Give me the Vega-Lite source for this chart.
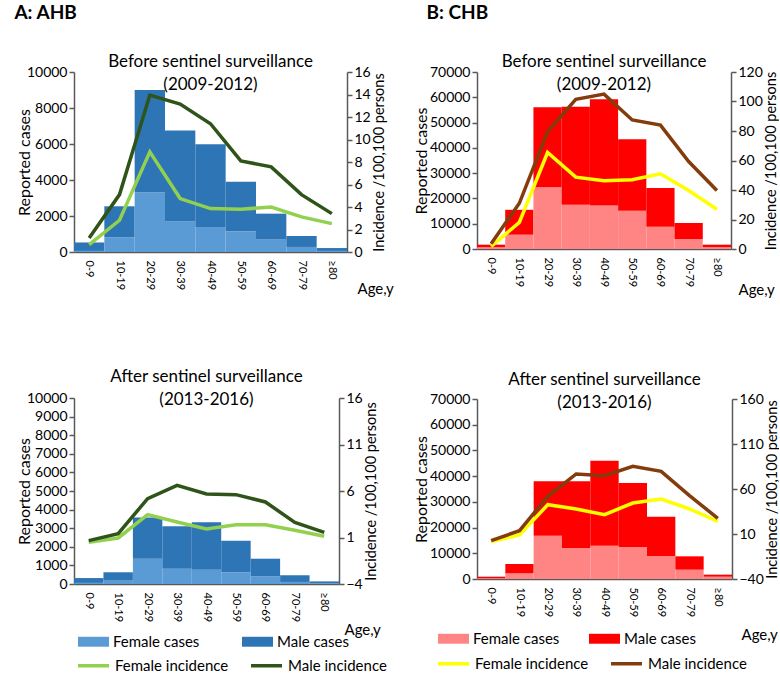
{
  "$schema": "https://vega.github.io/schema/vega-lite/v6.json",
  "padding": {"left": 14, "top": 4, "right": 0, "bottom": 0},
  "config": {
    "font": "Lato",
    "view": {"stroke": null},
    "title": {"font": "Lato", "fontSize": 17, "fontWeight": "normal", "color": "#000000", "lineHeight": 23},
    "axis": {"grid": false, "domainColor": "#595959", "tickColor": "#595959", "labelColor": "#000000", "titleColor": "#000000", "labelFont": "Lato", "titleFont": "Lato", "titleFontWeight": "normal", "labelFontSize": 14, "titleFontSize": 16, "domainWidth": 1.5, "tickWidth": 1.5, "tickSize": 5, "titlePadding": 4},
    "axisY": {"format": "d"},
    "axisX": {"labelAngle": 90, "labelFontSize": 11, "ticks": false, "labelPadding": 8, "titleAngle": 0, "titleAlign": "left", "titleBaseline": "alphabetic", "titleFontSize": 15},
    "axisRight": {"titleAngle": 270, "titleBaseline": "top", "titlePadding": 2, "titleFontSize": 14.5},
    "legend": {"labelFont": "Lato", "labelFontSize": 15, "labelColor": "#000000", "padding": 0}
  },
  "data": {"values": [
    {"p": "A1", "age": "0-9", "bar": "Female cases", "cases": 60, "line": "Female incidence", "inc": 0.65},
    {"p": "A1", "age": "0-9", "bar": "Male cases", "cases": 470, "line": "Male incidence", "inc": 1.25},
    {"p": "A1", "age": "10-19", "bar": "Female cases", "cases": 820, "line": "Female incidence", "inc": 2.82},
    {"p": "A1", "age": "10-19", "bar": "Male cases", "cases": 1720, "line": "Male incidence", "inc": 5.1},
    {"p": "A1", "age": "20-29", "bar": "Female cases", "cases": 3320, "line": "Female incidence", "inc": 8.9},
    {"p": "A1", "age": "20-29", "bar": "Male cases", "cases": 5680, "line": "Male incidence", "inc": 13.95},
    {"p": "A1", "age": "30-39", "bar": "Female cases", "cases": 1710, "line": "Female incidence", "inc": 4.75},
    {"p": "A1", "age": "30-39", "bar": "Male cases", "cases": 5040, "line": "Male incidence", "inc": 13.15},
    {"p": "A1", "age": "40-49", "bar": "Female cases", "cases": 1390, "line": "Female incidence", "inc": 3.86},
    {"p": "A1", "age": "40-49", "bar": "Male cases", "cases": 4590, "line": "Male incidence", "inc": 11.4},
    {"p": "A1", "age": "50-59", "bar": "Female cases", "cases": 1150, "line": "Female incidence", "inc": 3.8},
    {"p": "A1", "age": "50-59", "bar": "Male cases", "cases": 2750, "line": "Male incidence", "inc": 8.1},
    {"p": "A1", "age": "60-69", "bar": "Female cases", "cases": 690, "line": "Female incidence", "inc": 4.0},
    {"p": "A1", "age": "60-69", "bar": "Male cases", "cases": 1440, "line": "Male incidence", "inc": 7.57},
    {"p": "A1", "age": "70-79", "bar": "Female cases", "cases": 280, "line": "Female incidence", "inc": 3.12},
    {"p": "A1", "age": "70-79", "bar": "Male cases", "cases": 610, "line": "Male incidence", "inc": 5.1},
    {"p": "A1", "age": "≥80", "bar": "Female cases", "cases": 60, "line": "Female incidence", "inc": 2.52},
    {"p": "A1", "age": "≥80", "bar": "Male cases", "cases": 160, "line": "Male incidence", "inc": 3.41},

    {"p": "B1", "age": "0-9", "bar": "Female cases", "cases": 700, "line": "Female incidence", "inc": 1.8},
    {"p": "B1", "age": "0-9", "bar": "Male cases", "cases": 1010, "line": "Male incidence", "inc": 3.6},
    {"p": "B1", "age": "10-19", "bar": "Female cases", "cases": 5660, "line": "Female incidence", "inc": 18},
    {"p": "B1", "age": "10-19", "bar": "Male cases", "cases": 9840, "line": "Male incidence", "inc": 31},
    {"p": "B1", "age": "20-29", "bar": "Female cases", "cases": 24470, "line": "Female incidence", "inc": 65.4},
    {"p": "B1", "age": "20-29", "bar": "Male cases", "cases": 31580, "line": "Male incidence", "inc": 79.6},
    {"p": "B1", "age": "30-39", "bar": "Female cases", "cases": 17500, "line": "Female incidence", "inc": 48.7},
    {"p": "B1", "age": "30-39", "bar": "Male cases", "cases": 38800, "line": "Male incidence", "inc": 101.5},
    {"p": "B1", "age": "40-49", "bar": "Female cases", "cases": 17240, "line": "Female incidence", "inc": 46.2},
    {"p": "B1", "age": "40-49", "bar": "Male cases", "cases": 41960, "line": "Male incidence", "inc": 105},
    {"p": "B1", "age": "50-59", "bar": "Female cases", "cases": 15130, "line": "Female incidence", "inc": 46.9},
    {"p": "B1", "age": "50-59", "bar": "Male cases", "cases": 28270, "line": "Male incidence", "inc": 87.5},
    {"p": "B1", "age": "60-69", "bar": "Female cases", "cases": 8800, "line": "Female incidence", "inc": 51},
    {"p": "B1", "age": "60-69", "bar": "Male cases", "cases": 15280, "line": "Male incidence", "inc": 84},
    {"p": "B1", "age": "70-79", "bar": "Female cases", "cases": 3950, "line": "Female incidence", "inc": 39.7},
    {"p": "B1", "age": "70-79", "bar": "Male cases", "cases": 6310, "line": "Male incidence", "inc": 59.3},
    {"p": "B1", "age": "≥80", "bar": "Female cases", "cases": 700, "line": "Female incidence", "inc": 27},
    {"p": "B1", "age": "≥80", "bar": "Male cases", "cases": 1010, "line": "Male incidence", "inc": 39.7},

    {"p": "A2", "age": "0-9", "bar": "Female cases", "cases": 60, "line": "Female incidence", "inc": 0.48},
    {"p": "A2", "age": "0-9", "bar": "Male cases", "cases": 260, "line": "Male incidence", "inc": 0.66},
    {"p": "A2", "age": "10-19", "bar": "Female cases", "cases": 180, "line": "Female incidence", "inc": 0.95},
    {"p": "A2", "age": "10-19", "bar": "Male cases", "cases": 450, "line": "Male incidence", "inc": 1.41},
    {"p": "A2", "age": "20-29", "bar": "Female cases", "cases": 1360, "line": "Female incidence", "inc": 3.46},
    {"p": "A2", "age": "20-29", "bar": "Male cases", "cases": 2220, "line": "Male incidence", "inc": 5.18},
    {"p": "A2", "age": "30-39", "bar": "Female cases", "cases": 820, "line": "Female incidence", "inc": 2.67},
    {"p": "A2", "age": "30-39", "bar": "Male cases", "cases": 2280, "line": "Male incidence", "inc": 6.61},
    {"p": "A2", "age": "40-49", "bar": "Female cases", "cases": 770, "line": "Female incidence", "inc": 1.91},
    {"p": "A2", "age": "40-49", "bar": "Male cases", "cases": 2550, "line": "Male incidence", "inc": 5.68},
    {"p": "A2", "age": "50-59", "bar": "Female cases", "cases": 630, "line": "Female incidence", "inc": 2.38},
    {"p": "A2", "age": "50-59", "bar": "Male cases", "cases": 1700, "line": "Male incidence", "inc": 5.61},
    {"p": "A2", "age": "60-69", "bar": "Female cases", "cases": 410, "line": "Female incidence", "inc": 2.38},
    {"p": "A2", "age": "60-69", "bar": "Male cases", "cases": 950, "line": "Male incidence", "inc": 4.82},
    {"p": "A2", "age": "70-79", "bar": "Female cases", "cases": 110, "line": "Female incidence", "inc": 1.77},
    {"p": "A2", "age": "70-79", "bar": "Male cases", "cases": 360, "line": "Male incidence", "inc": 2.63},
    {"p": "A2", "age": "≥80", "bar": "Female cases", "cases": 40, "line": "Female incidence", "inc": 1.13},
    {"p": "A2", "age": "≥80", "bar": "Male cases", "cases": 100, "line": "Male incidence", "inc": 1.56},

    {"p": "B2", "age": "0-9", "bar": "Female cases", "cases": 300, "line": "Female incidence", "inc": 1.5},
    {"p": "B2", "age": "0-9", "bar": "Male cases", "cases": 600, "line": "Male incidence", "inc": 2.6},
    {"p": "B2", "age": "10-19", "bar": "Female cases", "cases": 2200, "line": "Female incidence", "inc": 8.9},
    {"p": "B2", "age": "10-19", "bar": "Male cases", "cases": 3630, "line": "Male incidence", "inc": 13.7},
    {"p": "B2", "age": "20-29", "bar": "Female cases", "cases": 16850, "line": "Female incidence", "inc": 42.6},
    {"p": "B2", "age": "20-29", "bar": "Male cases", "cases": 21130, "line": "Male incidence", "inc": 51.9},
    {"p": "B2", "age": "30-39", "bar": "Female cases", "cases": 12060, "line": "Female incidence", "inc": 37.8},
    {"p": "B2", "age": "30-39", "bar": "Male cases", "cases": 25920, "line": "Male incidence", "inc": 76.7},
    {"p": "B2", "age": "40-49", "bar": "Female cases", "cases": 12960, "line": "Female incidence", "inc": 31.5},
    {"p": "B2", "age": "40-49", "bar": "Male cases", "cases": 33060, "line": "Male incidence", "inc": 74.8},
    {"p": "B2", "age": "50-59", "bar": "Female cases", "cases": 12310, "line": "Female incidence", "inc": 44.4},
    {"p": "B2", "age": "50-59", "bar": "Male cases", "cases": 25020, "line": "Male incidence", "inc": 85.2},
    {"p": "B2", "age": "60-69", "bar": "Female cases", "cases": 8815, "line": "Female incidence", "inc": 48.9},
    {"p": "B2", "age": "60-69", "bar": "Male cases", "cases": 15425, "line": "Male incidence", "inc": 79.6},
    {"p": "B2", "age": "70-79", "bar": "Female cases", "cases": 3630, "line": "Female incidence", "inc": 37.8},
    {"p": "B2", "age": "70-79", "bar": "Male cases", "cases": 5185, "line": "Male incidence", "inc": 52.6},
    {"p": "B2", "age": "≥80", "bar": "Female cases", "cases": 900, "line": "Female incidence", "inc": 24.1},
    {"p": "B2", "age": "≥80", "bar": "Male cases", "cases": 790, "line": "Male incidence", "inc": 27.4}
  ]},
  "spacing": 19,
  "resolve": {"scale": {"fill": "independent", "stroke": "independent"}, "legend": {"fill": "independent", "stroke": "independent"}},
  "hconcat": [
    {
      "title": {"text": "A: AHB", "anchor": "start", "fontSize": 19, "fontWeight": "bold", "offset": 30, "dx": -2},
      "spacing": 72,
      "resolve": {"scale": {"fill": "independent", "stroke": "independent"}, "legend": {"fill": "independent", "stroke": "independent"}},
      "vconcat": [
        {
          "width": 273, "height": 180,
          "title": {"text": ["Before  sentinel surveillance", "(2009-2012)"], "offset": -29},
          "transform": [{"filter": "datum.p === 'A1'"}],
          "encoding": {"x": {"field": "age", "type": "nominal", "sort": ["0-9", "10-19", "20-29", "30-39", "40-49", "50-59", "60-69", "70-79", "≥80"], "scale": {"paddingInner": 0, "paddingOuter": 0}, "axis": {"title": "Age,y", "titleX": 283, "titleY": 41}}},
          "layer": [
            {"mark": {"type": "bar"}, "encoding": {
              "y": {"field": "cases", "type": "quantitative", "stack": "zero", "scale": {"domain": [0, 10000]}, "axis": {"title": "Reported cases", "titlePadding": -6, "values": [0, 2000, 4000, 6000, 8000, 10000]}},
              "order": {"field": "bar", "sort": "ascending"},
              "fill": {"field": "bar", "type": "nominal", "scale": {"domain": ["Female cases", "Male cases"], "range": ["#5B9BD5", "#2E75B6"]}, "legend": null}}},
            {"mark": {"type": "line", "strokeWidth": 3.5}, "encoding": {
              "y": {"field": "inc", "type": "quantitative", "scale": {"domain": [0, 16]}, "axis": {"orient": "right", "title": "Incidence /100,100 persons", "values": [0, 2, 4, 6, 8, 10, 12, 14, 16]}},
              "stroke": {"field": "line", "type": "nominal", "scale": {"domain": ["Female incidence", "Male incidence"], "range": ["#92D050", "#2F5419"]}, "legend": null}}}
          ],
          "resolve": {"scale": {"y": "independent"}}
        },
        {
          "width": 265, "height": 186,
          "title": {"text": ["After sentinel surveillance", "(2013-2016)"], "offset": -18},
          "transform": [{"filter": "datum.p === 'A2'"}],
          "encoding": {"x": {"field": "age", "type": "nominal", "sort": ["0-9", "10-19", "20-29", "30-39", "40-49", "50-59", "60-69", "70-79", "≥80"], "scale": {"paddingInner": 0, "paddingOuter": 0}, "axis": {"title": "Age,y", "titleX": 270, "titleY": 50}}},
          "layer": [
            {"mark": {"type": "bar"}, "encoding": {
              "y": {"field": "cases", "type": "quantitative", "stack": "zero", "scale": {"domain": [0, 10000]}, "axis": {"title": "Reported cases", "titlePadding": -6, "values": [0, 1000, 2000, 3000, 4000, 5000, 6000, 7000, 8000, 9000, 10000]}},
              "order": {"field": "bar", "sort": "ascending"},
              "fill": {"field": "bar", "type": "nominal", "scale": {"domain": ["Female cases", "Male cases"], "range": ["#5B9BD5", "#2E75B6"]}, "legend": {"orient": "none", "legendX": 4, "legendY": 228, "direction": "horizontal", "columns": 2, "title": null, "symbolType": "M-1,-0.32H1V0.32H-1Z", "symbolSize": 961, "symbolStrokeWidth": 0, "columnPadding": 42, "labelOffset": 4}}}},
            {"mark": {"type": "line", "strokeWidth": 3.5}, "encoding": {
              "y": {"field": "inc", "type": "quantitative", "scale": {"domain": [-4, 16]}, "axis": {"orient": "right", "title": "Incidence /100,100 persons", "values": [-4, 1, 6, 11, 16]}},
              "stroke": {"field": "line", "type": "nominal", "scale": {"domain": ["Female incidence", "Male incidence"], "range": ["#92D050", "#2F5419"]}, "legend": {"orient": "none", "legendX": 2, "legendY": 250, "direction": "horizontal", "columns": 2, "title": null, "symbolType": "stroke", "symbolSize": 961, "symbolStrokeWidth": 3.5, "columnPadding": 15, "labelOffset": 4}}}}
          ],
          "resolve": {"scale": {"y": "independent"}}
        }
      ]
    },
    {
      "title": {"text": "B: CHB", "anchor": "start", "fontSize": 19, "fontWeight": "bold", "offset": 30, "dx": 13},
      "spacing": 74,
      "resolve": {"scale": {"fill": "independent", "stroke": "independent"}, "legend": {"fill": "independent", "stroke": "independent"}},
      "vconcat": [
        {
          "width": 254, "height": 177,
          "title": {"text": ["Before sentinel surveillance", "(2009-2012)"], "offset": -29},
          "transform": [{"filter": "datum.p === 'B1'"}],
          "encoding": {"x": {"field": "age", "type": "nominal", "sort": ["0-9", "10-19", "20-29", "30-39", "40-49", "50-59", "60-69", "70-79", "≥80"], "scale": {"paddingInner": 0, "paddingOuter": 0}, "axis": {"title": "Age,y", "titleX": 261, "titleY": 45}}},
          "layer": [
            {"mark": {"type": "bar"}, "encoding": {
              "y": {"field": "cases", "type": "quantitative", "stack": "zero", "scale": {"domain": [0, 70000]}, "axis": {"title": "Reported cases", "titlePadding": 0, "values": [0, 10000, 20000, 30000, 40000, 50000, 60000, 70000]}},
              "order": {"field": "bar", "sort": "ascending"},
              "fill": {"field": "bar", "type": "nominal", "scale": {"domain": ["Female cases", "Male cases"], "range": ["#FF8585", "#FF0000"]}, "legend": null}}},
            {"mark": {"type": "line", "strokeWidth": 3.5}, "encoding": {
              "y": {"field": "inc", "type": "quantitative", "scale": {"domain": [0, 120]}, "axis": {"orient": "right", "title": "Incidence /100,100 persons", "values": [0, 20, 40, 60, 80, 100, 120]}},
              "stroke": {"field": "line", "type": "nominal", "scale": {"domain": ["Female incidence", "Male incidence"], "range": ["#FFFF00", "#843C0C"]}, "legend": null}}}
          ],
          "resolve": {"scale": {"y": "independent"}}
        },
        {
          "width": 255, "height": 180,
          "title": {"text": ["After  sentinel surveillance", "(2013-2016)"], "offset": -20},
          "transform": [{"filter": "datum.p === 'B2'"}],
          "encoding": {"x": {"field": "age", "type": "nominal", "sort": ["0-9", "10-19", "20-29", "30-39", "40-49", "50-59", "60-69", "70-79", "≥80"], "scale": {"paddingInner": 0, "paddingOuter": 0}, "axis": {"title": "Age,y", "titleX": 264, "titleY": 60}}},
          "layer": [
            {"mark": {"type": "bar"}, "encoding": {
              "y": {"field": "cases", "type": "quantitative", "stack": "zero", "scale": {"domain": [0, 70000]}, "axis": {"title": "Reported cases", "titlePadding": 0, "values": [0, 10000, 20000, 30000, 40000, 50000, 60000, 70000]}},
              "order": {"field": "bar", "sort": "ascending"},
              "fill": {"field": "bar", "type": "nominal", "scale": {"domain": ["Female cases", "Male cases"], "range": ["#FF8585", "#FF0000"]}, "legend": {"orient": "none", "legendX": -39, "legendY": 224, "direction": "horizontal", "columns": 2, "title": null, "symbolType": "M-1,-0.32H1V0.32H-1Z", "symbolSize": 961, "symbolStrokeWidth": 0, "columnPadding": 29, "labelOffset": 4}}}},
            {"mark": {"type": "line", "strokeWidth": 3.5}, "encoding": {
              "y": {"field": "inc", "type": "quantitative", "scale": {"domain": [-40, 160]}, "axis": {"orient": "right", "title": "Incidence /100,100 persons", "values": [-40, 10, 60, 110, 160]}},
              "stroke": {"field": "line", "type": "nominal", "scale": {"domain": ["Female incidence", "Male incidence"], "range": ["#FFFF00", "#843C0C"]}, "legend": {"orient": "none", "legendX": -41, "legendY": 247, "direction": "horizontal", "columns": 2, "title": null, "symbolType": "stroke", "symbolSize": 961, "symbolStrokeWidth": 3.5, "columnPadding": 15, "labelOffset": 4}}}}
          ],
          "resolve": {"scale": {"y": "independent"}}
        }
      ]
    }
  ]
}
